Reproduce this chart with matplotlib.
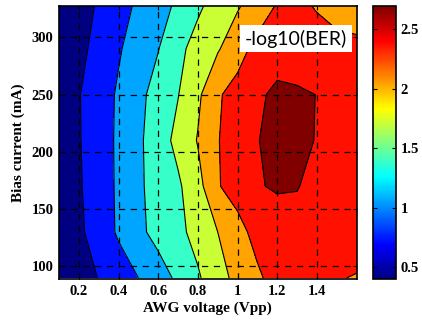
import numpy as np
import matplotlib
matplotlib.use('Agg')
import matplotlib.pyplot as plt
from matplotlib.colors import Normalize, LinearSegmentedColormap

# AWG voltage (Vpp) and bias current (mA) grid
awg_v = [0.1, 0.2, 0.3, 0.4, 0.5, 0.6, 0.7, 0.8, 0.9, 1.0, 1.1, 1.2, 1.3, 1.4, 1.5, 1.6]
bias_ma = [90, 130, 170, 210, 250, 290, 327]

# -log10(BER), one row per bias current
ber_90 = [0.45, 0.60, 0.74, 0.90, 1.05, 1.24, 1.44, 1.67, 1.92, 2.13, 2.31, 2.48, 2.48, 2.45, 2.37, 2.35]
ber_130 = [0.45, 0.67, 0.88, 1.09, 1.31, 1.48, 1.63, 1.82, 2.04, 2.26, 2.46, 2.50, 2.52, 2.50, 2.47, 2.45]
ber_170 = [0.45, 0.70, 0.88, 1.10, 1.33, 1.50, 1.66, 1.93, 2.34, 2.48, 2.587, 2.62, 2.61, 2.533, 2.49, 2.46]
ber_210 = [0.44, 0.71, 0.90, 1.10, 1.32, 1.56, 1.80, 2.06, 2.35, 2.47, 2.59, 2.69, 2.66, 2.589, 2.53, 2.50]
ber_250 = [0.42, 0.715, 0.90, 1.09, 1.30, 1.50, 1.70, 1.98, 2.33, 2.46, 2.552, 2.66, 2.64, 2.596, 2.54, 2.50]
ber_290 = [0.42, 0.64, 0.84, 1.02, 1.19, 1.37, 1.63, 1.83, 2.01, 2.25, 2.45, 2.468, 2.44, 2.42, 2.41, 2.40]
ber_327 = [0.40, 0.59, 0.77, 0.94, 1.10, 1.26, 1.44, 1.66, 1.84, 2.01, 2.20, 2.386, 2.39, 2.35, 2.30, 2.28]

levels = [0.40, 0.73, 1.05, 1.38, 1.71, 2.04, 2.36, 2.60, 2.70]

Z = np.array([ber_90, ber_130, ber_170, ber_210, ber_250, ber_290, ber_327])

# matlab style jet
mjet = LinearSegmentedColormap('mjet', {
    'red':   [(0, 0, 0), (0.375, 0, 0), (0.625, 1, 1), (0.875, 1, 1), (1, 0.5, 0.5)],
    'green': [(0, 0, 0), (0.125, 0, 0), (0.375, 1, 1), (0.625, 1, 1), (0.875, 0, 0), (1, 0, 0)],
    'blue':  [(0, 0.5, 0.5), (0.125, 1, 1), (0.375, 1, 1), (0.625, 0, 0), (1, 0, 0)],
})

fig = plt.figure(figsize=(4.22, 3.2), dpi=100)
ax = fig.add_axes([0.140, 0.128, 0.705, 0.852])
cax = fig.add_axes([0.885, 0.128, 0.053, 0.852])

fill_colors = mjet(np.linspace(0, 1, len(levels) - 1))
ax.contourf(awg_v, bias_ma, Z, levels=levels, colors=fill_colors)
ax.contour(awg_v, bias_ma, Z, levels=levels[1:-1], colors='k', linewidths=0.8)

ax.set_xlim(0.1, 1.6)
ax.set_ylim(89, 327)
ax.set_xticks([0.2, 0.4, 0.6, 0.8, 1.0, 1.2, 1.4])
ax.set_xticklabels(['0.2', '0.4', '0.6', '0.8', '1', '1.2', '1.4'])
ax.set_yticks([100, 150, 200, 250, 300])

ax.set_axisbelow(False)
ax.grid(True, color='k', linestyle=(0, (5, 4.5)), linewidth=0.9)
ax.tick_params(direction='in', length=3, top=True, right=True, pad=4)
for lab in ax.get_xticklabels() + ax.get_yticklabels():
    lab.set_fontfamily('Liberation Serif')
    lab.set_fontweight('bold')
    lab.set_fontsize(10.5)
for sp in ax.spines.values():
    sp.set_linewidth(1.2)

ax.set_xlabel('AWG voltage (Vpp)', fontfamily='Liberation Serif', fontweight='bold', fontsize=11, labelpad=3)
ax.set_ylabel('Bias current (mA)', fontfamily='Liberation Serif', fontweight='bold', fontsize=11, labelpad=5)

ax.text(1.035, 299, '-log10(BER)', fontfamily='Lato', fontsize=14, va='center', ha='left',
        bbox=dict(facecolor='white', edgecolor='none', pad=3.5), zorder=5)

# colorbar
sm = plt.cm.ScalarMappable(norm=Normalize(vmin=Z.min(), vmax=Z.max()), cmap=mjet)
cb = fig.colorbar(sm, cax=cax)
cb.set_ticks([0.5, 1.0, 1.5, 2.0, 2.5])
cb.set_ticklabels(['0.5', '1', '1.5', '2', '2.5'])
cax.tick_params(direction='in', length=3, left=True, right=True)
for lab in cax.get_yticklabels():
    lab.set_fontfamily('Liberation Serif')
    lab.set_fontweight('bold')
    lab.set_fontsize(10.5)
cb.outline.set_linewidth(1.2)

fig.savefig('out.png', dpi=100)
